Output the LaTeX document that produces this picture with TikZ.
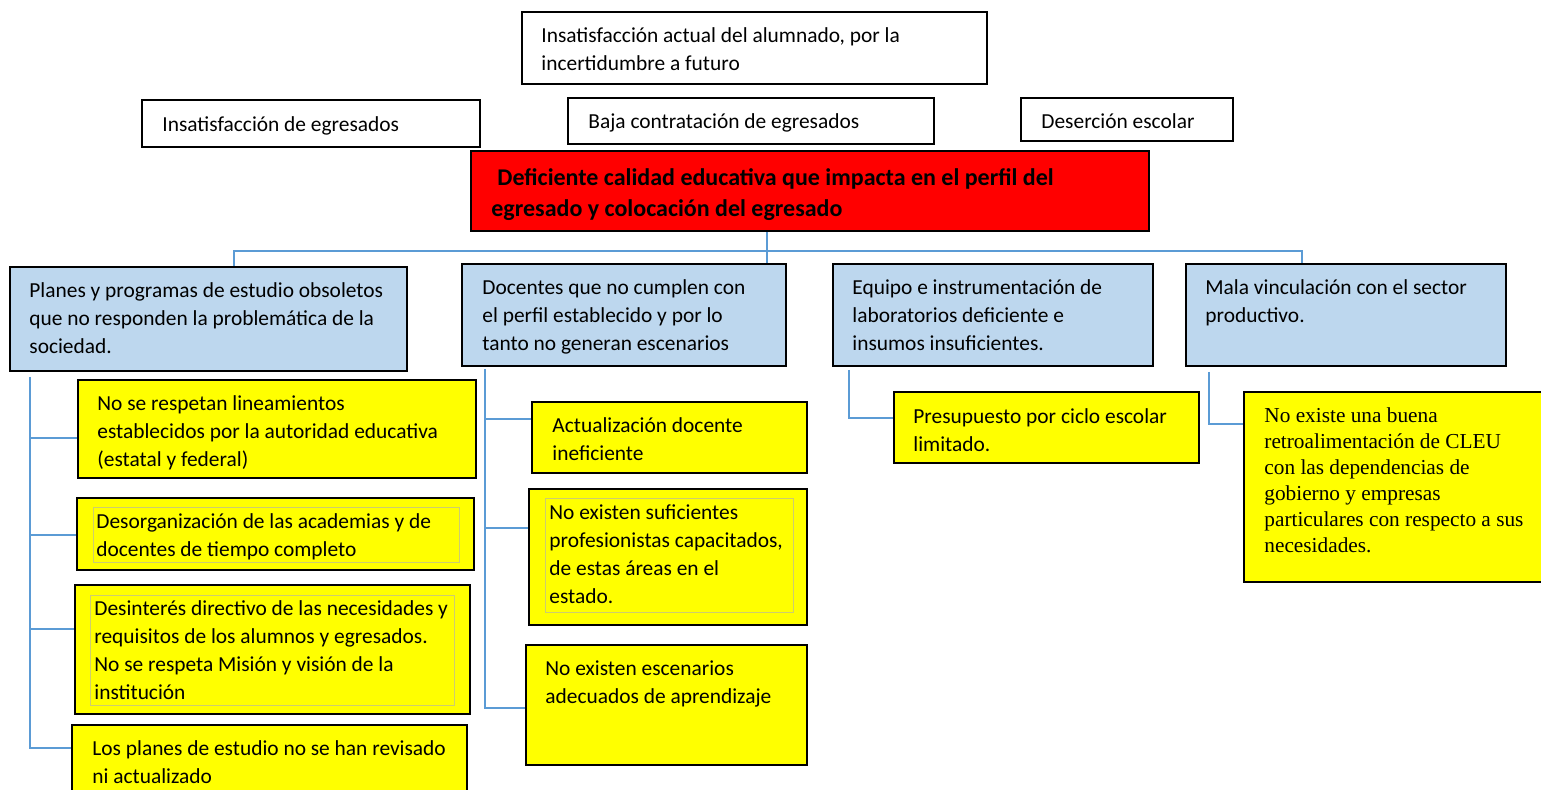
\documentclass[tikz,border=0pt]{standalone}
\usepackage{fontspec}
\setmainfont{Carlito}
\newfontfamily\timesfont{Liberation Serif}
\usetikzlibrary{calc}
\definecolor{causeblue}{RGB}{189, 215, 238}
\definecolor{linkblue}{RGB}{91, 155, 213}
\definecolor{innerline}{RGB}{205, 205, 110}
\definecolor{subyellow}{RGB}{255, 255, 0}

\begin{document}
\begin{tikzpicture}[x=0.5pt, y=-0.5pt,
    boxwh/.style 2 args={draw=black, line width=1pt, anchor=north west, inner sep=0, minimum width=#1*0.5pt, minimum height=#2*0.5pt},
    effect/.style={fill=white},
    problem/.style={fill=red},
    cause/.style={fill=causeblue},
    subcause/.style={fill=subyellow},
    txt/.style={anchor=north west, inner sep=0, align=left, font=\fontsize{10.7}{14}\selectfont, execute at begin node=\strut},
    link/.style={draw=linkblue, line width=0.75pt},
    innerframe/.style={draw=innerline, line width=0.4pt}
]
    \clip (0,0) rectangle (1541,790);

    % Effects
    \node[boxwh={465}{72}, effect] (e1) at (521,11) {};
    \node[boxwh={338}{47}, effect] (e2) at (141,99) {};
    \node[boxwh={366}{46}, effect] (e3) at (567,97) {};
    \node[boxwh={212}{43}, effect] (e4) at (1020,97) {};
    \node[txt] (e1txt) at ([shift={(20,16)}]e1.north west) {Insatisfacción actual del alumnado, por la\\incertidumbre a futuro};
    \node[txt] (e2txt) at ([shift={(21,13)}]e2.north west) {Insatisfacción de egresados};
    \node[txt] (e3txt) at ([shift={(21,12)}]e3.north west) {Baja contratación de egresados};
    \node[txt] (e4txt) at ([shift={(21,12)}]e4.north west) {Deserción escolar};

    % Central problem
    \node[boxwh={678}{80}, problem] (p) at (470,150) {};
    \node[txt, font=\bfseries\fontsize{12}{15.5}\selectfont] (ptxt) at ([shift={(21,18)}]p.north west) {\hspace*{3pt}Deficiente calidad educativa que impacta en el perfil del\\egresado y colocación del egresado};

    % Causes
    \node[boxwh={397}{104}, cause] (b1) at (9,266) {};
    \node[boxwh={324}{102}, cause] (b2) at (461,263) {};
    \node[boxwh={320}{102}, cause] (b3) at (832,263) {};
    \node[boxwh={320}{102}, cause] (b4) at (1185,263) {};
    \node[txt] (b1txt) at ([shift={(20,16)}]b1.north west) {Planes y programas de estudio obsoletos\\que no responden la problemática de la\\sociedad.};
    \node[txt] (b2txt) at ([shift={(21,16)}]b2.north west) {Docentes que no cumplen con\\el perfil establecido y por lo\\tanto no generan escenarios};
    \node[txt] (b3txt) at ([shift={(20,16)}]b3.north west) {Equipo e instrumentación de\\laboratorios deficiente e\\insumos insuficientes.};
    \node[txt] (b4txt) at ([shift={(20,16)}]b4.north west) {Mala vinculación con el sector\\productivo.};

    % Sub-causes
    \node[boxwh={398}{98}, subcause] (y1) at (77,379) {};
    \node[boxwh={397}{72}, subcause] (y2) at (76,497) {};
    \node[boxwh={395}{129}, subcause] (y3) at (74,584) {};
    \node[boxwh={395}{100}, subcause] (y4) at (71,724) {};
    \node[boxwh={275}{71}, subcause] (y5) at (531,401) {};
    \node[boxwh={278}{136}, subcause] (y6) at (528,488) {};
    \node[boxwh={281}{120}, subcause] (y7) at (525,644) {};
    \node[boxwh={305}{71}, subcause] (y8) at (893,391) {};
    \node[boxwh={310}{190}, subcause] (y9) at (1243,391) {};
    \draw[innerframe] ([shift={(17,10)}]y2.north west) rectangle ([shift={(-16,-9)}]y2.south east);
    \draw[innerframe] ([shift={(16,11)}]y3.north west) rectangle ([shift={(-17,-10)}]y3.south east);
    \draw[innerframe] ([shift={(17,10)}]y6.north west) rectangle ([shift={(-15,-14)}]y6.south east);
    \node[txt] (y1txt) at ([shift={(20,16)}]y1.north west) {No se respetan lineamientos\\establecidos por la autoridad educativa\\(estatal y federal)};
    \node[txt] (y2txt) at ([shift={(20,16)}]y2.north west) {Desorganización de las academias y de\\docentes de tiempo completo};
    \node[txt] (y3txt) at ([shift={(20,16)}]y3.north west) {Desinterés directivo de las necesidades y\\requisitos de los alumnos y egresados.\\No se respeta Misión y visión de la\\institución};
    \node[txt] (y4txt) at ([shift={(21,16)}]y4.north west) {Los planes de estudio no se han revisado\\ni actualizado};
    \node[txt] (y5txt) at ([shift={(21,16)}]y5.north west) {Actualización docente\\ineficiente};
    \node[txt] (y6txt) at ([shift={(21,16)}]y6.north west) {No existen suficientes\\profesionistas capacitados,\\de estas áreas en el\\estado.};
    \node[txt] (y7txt) at ([shift={(20,16)}]y7.north west) {No existen escenarios\\adecuados de aprendizaje};
    \node[txt] (y8txt) at ([shift={(20,17)}]y8.north west) {Presupuesto por ciclo escolar\\limitado.};
    \node[txt, font=\timesfont\fontsize{10.65}{13}\selectfont] (y9txt) at ([shift={(21,16)}]y9.north west) {No existe una buena\\retroalimentación de CLEU\\con las dependencias de\\gobierno y empresas\\particulares con respecto a sus\\necesidades.};

    % Problem to causes
    \coordinate (j1) at (234,251);
    \coordinate (j2) at (767,251);
    \coordinate (j4) at (1302,251);
    \draw[link] (j1 |- b1.north) -- (j1) -- (j4) -- (j4 |- b4.north);
    \draw[link] (j2 |- p.south) -- (j2 |- b2.north);

    % Causes to sub-causes
    \coordinate (t1) at ([shift={(21,5)}]b1.south west);
    \coordinate (t2) at ([shift={(24,2)}]b2.south west);
    \coordinate (t3) at ([shift={(17,3)}]b3.south west);
    \coordinate (t4) at ([shift={(24,5)}]b4.south west);
    \draw[link] (t1) |- ([shift={(0,24)}]y4.north west);
    \foreach \n/\d in {y1/59, y2/38, y3/45} {
        \draw[link] ([shift={(0,\d)}]\n.north west) -| (t1);
    }
    \draw[link] (t2) |- ([shift={(0,64)}]y7.north west);
    \foreach \n/\d in {y5/18, y6/40} {
        \draw[link] ([shift={(0,\d)}]\n.north west) -| (t2);
    }
    \draw[link] (t3) |- ([shift={(0,27)}]y8.north west);
    \draw[link] (t4) |- ([shift={(0,33)}]y9.north west);
\end{tikzpicture}
\end{document}
